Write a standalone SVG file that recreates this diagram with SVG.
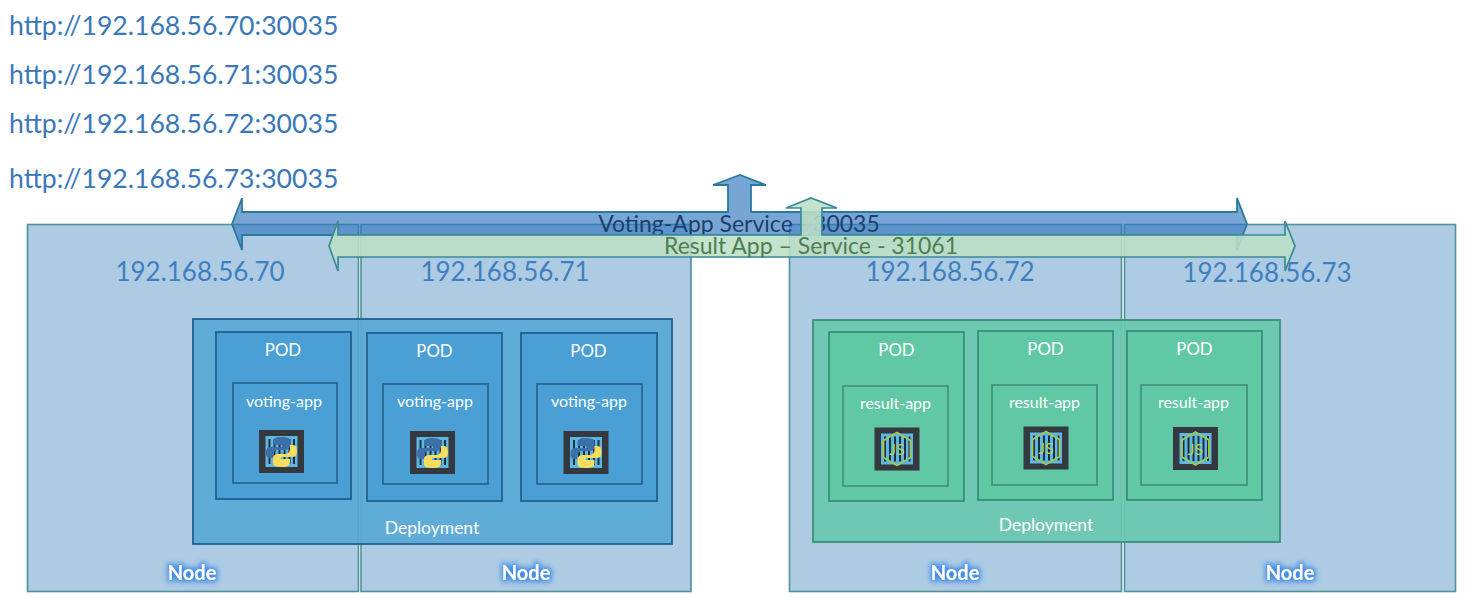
<svg xmlns="http://www.w3.org/2000/svg" width="1472" height="598" viewBox="0 0 1472 598">
<style>
text{font-family:"Lato","Open Sans","Liberation Sans",sans-serif}
.node{fill:#aecbe4;stroke:#4f9297;stroke-width:1.6}
.ip{fill:#3f7fc0;font-size:26px;text-anchor:middle}
.url{fill:#3a78ba;font-size:26.6px}
.nl{fill:#fff;font-size:20px;font-weight:700;text-anchor:middle;filter:url(#glow)}
.dep-b{fill:#58a9d8;fill-opacity:.92;stroke:#235f8f;stroke-width:1.8}
.pod-b{fill:#4a9fd5;stroke:#235f8f;stroke-width:1.8}
.in-b{fill:none;stroke:#235f8f;stroke-width:1.6}
.dep-g{fill:#68c8ae;fill-opacity:.9;stroke:#3c8f78;stroke-width:1.8}
.pod-g{fill:#61c8a6;stroke:#3c8f78;stroke-width:1.8}
.in-g{fill:none;stroke:#3c8f78;stroke-width:1.6}
.t{fill:#fff;font-size:16px;text-anchor:middle}
.dl{font-size:17.500px}
.pod{font-size:16.800px}
.arrow-b{fill:#2f76bd;fill-opacity:.65;stroke:#2a7a9c;stroke-width:1.8}
.arrow-g{fill:#bcdfc6;fill-opacity:.88;stroke:#3a8a9a;stroke-width:1.7}
</style>
<defs>
<filter id="glow" x="-30%" y="-40%" width="160%" height="180%">
<feMorphology in="SourceAlpha" operator="dilate" radius="1.5" result="d"/>
<feGaussianBlur in="d" stdDeviation="2.6" result="b"/>
<feFlood flood-color="#3f8fe6"/>
<feComposite in2="b" operator="in" result="c"/>
<feMerge><feMergeNode in="c"/><feMergeNode in="SourceGraphic"/></feMerge>
</filter>
<g id="box">
<rect x="0" y="0" width="45" height="43" fill="#33393f"/>
<rect x="6.500" y="6" width="32" height="31" fill="#5cb8e0"/>
<path d="M10.500 9v25M15.500 9v25M20.500 9v25M25.500 9v25M30.500 9v25M35 9v25" stroke="#1f2f3c" stroke-width="2"/>
</g>
<g id="py">
<use href="#box"/>
<path d="M22 7c-6 0-8 2-8 5v3h9v2H11c-3 0-4 3-4 6s1 5 4 5h3v-3c0-3 2-5 5-5h7c3 0 5-2 5-4v-5c0-3-3-4-9-4z" fill="#3d70a8"/>
<path d="M23 37c6 0 8-2 8-5v-3h-9v-2h12c3 0 4-3 4-6s-1-6-4-6h-3v4c0 3-2 5-5 5h-7c-3 0-5 2-5 4v5c0 3 3 4 9 4z" fill="#f7dc5e"/>
</g>
<g id="js">
<use href="#box"/>
<path d="M22.500 5l13.500 8v17l-13.500 8-13.500-8V13z" fill="none" stroke="#a8c850" stroke-width="1.800"/>
<text x="22.500" y="27.500" style="font-size:16px;font-weight:400;fill:#b4d058;text-anchor:middle">JS</text>
</g>
</defs>

<rect width="1472" height="598" fill="#fff"/>

<g id="urls">
<text class="url" x="9" y="35">http://192.168.56.70:30035</text>
<text class="url" x="9" y="84">http://192.168.56.71:30035</text>
<text class="url" x="9" y="133">http://192.168.56.72:30035</text>
<text class="url" x="9" y="188">http://192.168.56.73:30035</text>
</g>

<g id="node-70"><rect class="node" x="27.500" y="224.500" width="331" height="367"/></g>
<g id="node-71"><rect class="node" x="361" y="224.500" width="330" height="367"/></g>
<g id="node-72"><rect class="node" x="789.500" y="224.500" width="332" height="367"/></g>
<g id="node-73"><rect class="node" x="1124.500" y="224.500" width="331" height="367"/></g>

<g id="ips">
<text class="ip" x="200" y="281">192.168.56.70</text>
<text class="ip" x="505" y="281">192.168.56.71</text>
<text class="ip" x="950" y="281">192.168.56.72</text>
<text class="ip" x="1267" y="282">192.168.56.73</text>
</g>

<g id="deployment-voting">
<rect class="dep-b" x="193" y="319" width="479" height="225"/>
<text class="t dl" x="432" y="534">Deployment</text>
</g>
<g id="pod-v1">
<rect class="pod-b" x="216" y="332" width="135" height="167"/>
<rect class="in-b" x="233" y="383" width="104" height="100"/>
<text class="t pod" x="283" y="356">POD</text>
<text class="t" x="284" y="407">voting-app</text>
<use href="#py" x="259" y="430"/>
</g>
<g id="pod-v2">
<rect class="pod-b" x="367" y="333" width="135" height="168"/>
<rect class="in-b" x="383" y="384" width="105" height="100"/>
<text class="t pod" x="434.500" y="357">POD</text>
<text class="t" x="435" y="407">voting-app</text>
<use href="#py" x="410" y="431"/>
</g>
<g id="pod-v3">
<rect class="pod-b" x="521" y="333" width="136" height="168"/>
<rect class="in-b" x="537" y="384" width="105" height="100"/>
<text class="t pod" x="588.500" y="357">POD</text>
<text class="t" x="589" y="407">voting-app</text>
<use href="#py" x="563.500" y="431"/>
</g>

<g id="deployment-result">
<rect class="dep-g" x="813" y="320" width="467" height="222"/>
<text class="t dl" x="1046" y="531">Deployment</text>
</g>
<g id="pod-r1">
<rect class="pod-g" x="829" y="332" width="135" height="169"/>
<rect class="in-g" x="843" y="386" width="105" height="100"/>
<text class="t pod" x="896.500" y="356">POD</text>
<text class="t" x="895.500" y="409">result-app</text>
<use href="#js" x="874.500" y="427.500"/>
</g>
<g id="pod-r2">
<rect class="pod-g" x="978" y="331" width="135" height="169"/>
<rect class="in-g" x="992" y="385" width="105" height="100"/>
<text class="t pod" x="1045.500" y="355">POD</text>
<text class="t" x="1044.500" y="408">result-app</text>
<use href="#js" x="1023.500" y="426.500"/>
</g>
<g id="pod-r3">
<rect class="pod-g" x="1127" y="331" width="135" height="169"/>
<rect class="in-g" x="1141" y="385" width="106" height="100"/>
<text class="t pod" x="1194.500" y="355">POD</text>
<text class="t" x="1193.500" y="408">result-app</text>
<use href="#js" x="1173" y="427"/>
</g>

<g id="node-labels">
<text class="nl" x="192" y="580">Node</text>
<text class="nl" x="526" y="580">Node</text>
<text class="nl" x="955" y="580">Node</text>
<text class="nl" x="1290" y="580">Node</text>
</g>

<g id="connectors">
<g id="voting-service">
<path class="arrow-b" d="M232 224L242 198V212H728V185H713L740 175L766 185H751V212H1237V198L1247 224L1237 250V235H242V250Z"/>
<text x="739" y="232" style="font-size:23px;fill:#1c3f6e;text-anchor:middle">Voting-App Service - 30035</text>
</g>
<g id="result-service">
<path class="arrow-g" d="M329 246L338 221V235H801V208H786L811 198L837 208H822V235H1285V221L1295 246L1285 271V257H338V271Z"/>
<text x="811" y="254" style="font-size:23px;fill:#4f7d4f;text-anchor:middle">Result App – Service - 31061</text>
</g>
</g>
</svg>
